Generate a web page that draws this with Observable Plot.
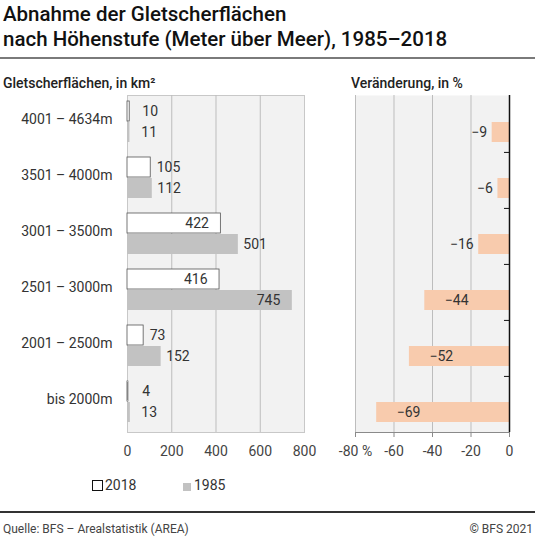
<!DOCTYPE html>
<html>
<head>
<meta charset="utf-8">
<script src="https://cdn.jsdelivr.net/npm/d3@7"></script>
<script src="https://cdn.jsdelivr.net/npm/@observablehq/plot@0.6"></script>
<style>
  body { margin: 0; background: #fff; font-family: Roboto, sans-serif; color: #222; }
  #page { position: relative; width: 535px; height: 537px; overflow: hidden; }
  .abs { position: absolute; white-space: nowrap; }
  #title { left: 3px; top: 2px; font-size: 20.5px; line-height: 25px; font-weight: 500; color: #111; }
  #rule-top { left: 0; top: 57px; width: 535px; height: 2px; background: #7a7a7a; }
  .sub { top: 75px; font-size: 14px; font-weight: 500; color: #222; }
  #legend { left: 92px; top: 477px; font-size: 14px; color: #333; }
  .sw { display: inline-block; vertical-align: -1px; box-sizing: border-box; }
  #rule-bot { left: 0; top: 511px; width: 535px; height: 1.5px; background: #333; }
  .foot { top: 522px; font-size: 12px; color: #444; }
</style>
</head>
<body>
<div id="page">
  <div id="title" class="abs">Abnahme der Gletscherflächen<br>nach Höhenstufe (Meter über Meer), 1985–2018</div>
  <div id="rule-top" class="abs"></div>
  <div class="abs sub" style="left:3px">Gletscherflächen, in km²</div>
  <div class="abs sub" style="left:351px">Veränderung, in %</div>
  <div id="left" class="abs" style="left:0;top:90px"></div>
  <div id="right" class="abs" style="left:330px;top:90px"></div>
  <div id="legend" class="abs">
    <span class="sw" style="width:11px;height:11px;border:1px solid #111;background:#fff"></span><span style="margin-left:2px">2018</span>
    <span class="sw" style="width:8px;height:8px;background:#c2c2c2;margin-left:43px"></span><span style="margin-left:3px">1985</span>
  </div>
  <div id="rule-bot" class="abs"></div>
  <div class="abs foot" style="left:3px">Quelle: BFS – Arealstatistik (AREA)</div>
  <div class="abs foot" style="right:2px">© BFS 2021</div>
</div>
<script>
// ----------------- data -----------------
const groups   = ["4001 – 4634m", "3501 – 4000m", "3001 – 3500m", "2501 – 3000m", "2001 – 2500m", "bis 2000m"];
const area2018 = [10, 105, 422, 416, 73, 4];
const area1985 = [11, 112, 501, 745, 152, 13];
const change   = [-9, -6, -16, -44, -52, -69];
const areaTicks   = [0, 200, 400, 600, 800];
const changeTicks = [-80, -60, -40, -20, 0];

const rows = groups.map((g, i) => ({ group: g, v2018: area2018[i], v1985: area1985[i], change: change[i] }));

// --------------- layout -----------------
const H = 372, MT = 5, MB = 30;
const band = (H - MT - MB) / groups.length;
const style = { fontFamily: "Roboto, sans-serif", fontSize: "14px", color: "#333", background: "transparent", overflow: "visible" };
const fmt = d3.format("d"); // unicode minus for bar labels

// ---------- left: areas 2018 vs 1985 ----------
const left = Plot.plot({
  width: 320, height: H, marginTop: MT, marginBottom: MB, marginLeft: 127, marginRight: 16,
  style,
  x: { domain: [0, 800], label: null },
  y: { domain: groups, padding: 0, label: null },
  marks: [
    Plot.frame({ fill: "#f2f2f2", stroke: "#c8c8c8" }),
    Plot.ruleX(areaTicks.slice(1, -1), { stroke: "#bdbdbd" }),
    Plot.barX(rows, { y: "group", x: "v2018", fill: "#fff", stroke: "#555", strokeWidth: 0.8, insetTop: 5, insetBottom: 31 }),
    Plot.barX(rows, { y: "group", x: "v1985", fill: "#c2c2c2", insetTop: 26, insetBottom: 10 }),
    Plot.text(rows.filter(d => d.v2018 <= 400), { y: "group", x: d => Math.max(d.v2018, 40), text: d => fmt(d.v2018), textAnchor: "start", dx: 6, dy: -13, fill: "#333" }),
    Plot.text(rows.filter(d => d.v2018 > 400), { y: "group", x: "v2018", text: d => fmt(d.v2018), textAnchor: "end", dx: -12, dy: -13, fill: "#333" }),
    Plot.text(rows.filter(d => d.v1985 <= 600), { y: "group", x: d => Math.max(d.v1985, 40), text: d => fmt(d.v1985), textAnchor: "start", dx: 5, dy: 8, fill: "#333" }),
    Plot.text(rows.filter(d => d.v1985 > 600), { y: "group", x: "v1985", text: d => fmt(d.v1985), textAnchor: "end", dx: -12, dy: 8, fill: "#333" }),
    Plot.axisX({ ticks: areaTicks, tickSize: 0, tickPadding: 14, tickFormat: d => `${d}`, fill: "#444", label: null }),
    Plot.axisY({ tickSize: 0, tickPadding: 15, dy: -5, fill: "#333", label: null })
  ]
});
document.getElementById("left").appendChild(left);

// ---------- right: change in % ----------
const right = Plot.plot({
  width: 205, height: H, marginTop: MT, marginBottom: MB, marginLeft: 25, marginRight: 26,
  style,
  x: { domain: [-80, 0], label: null },
  y: { domain: groups, padding: 0, axis: null },
  marks: [
    Plot.frame({ fill: "#f2f2f2" }),
    Plot.ruleX(changeTicks.slice(0, -1), { stroke: "#bdbdbd" }),
    Plot.barX(rows, { y: "group", x: "change", fill: "#f8cbad", insetTop: 26, insetBottom: 10 }),
    Plot.text(rows.filter(d => d.change > -20), { y: "group", x: "change", text: d => fmt(d.change), textAnchor: "end", dx: -5, dy: 8, fill: "#333" }),
    Plot.text(rows.filter(d => d.change <= -20), { y: "group", x: "change", text: d => fmt(d.change), textAnchor: "start", dx: 20, dy: 8, fill: "#333" }),
    Plot.frame({ anchor: "bottom", stroke: "#8a8a8a" }),
    Plot.ruleX([0], { stroke: "#111", strokeWidth: 1.5 }),
    Plot.ruleY(groups.slice(1), { y: d => d, x1: -2.6, x2: 0, dy: -band / 2, stroke: "#111" }),
    Plot.axisX({ ticks: changeTicks, tickSize: 5, tickPadding: 9, stroke: "#8a8a8a", fill: "#444", label: null,
                 tickFormat: d => d === -80 ? "-80 %" : `${d}` })
  ]
});
document.getElementById("right").appendChild(right);
</script>
</body>
</html>
